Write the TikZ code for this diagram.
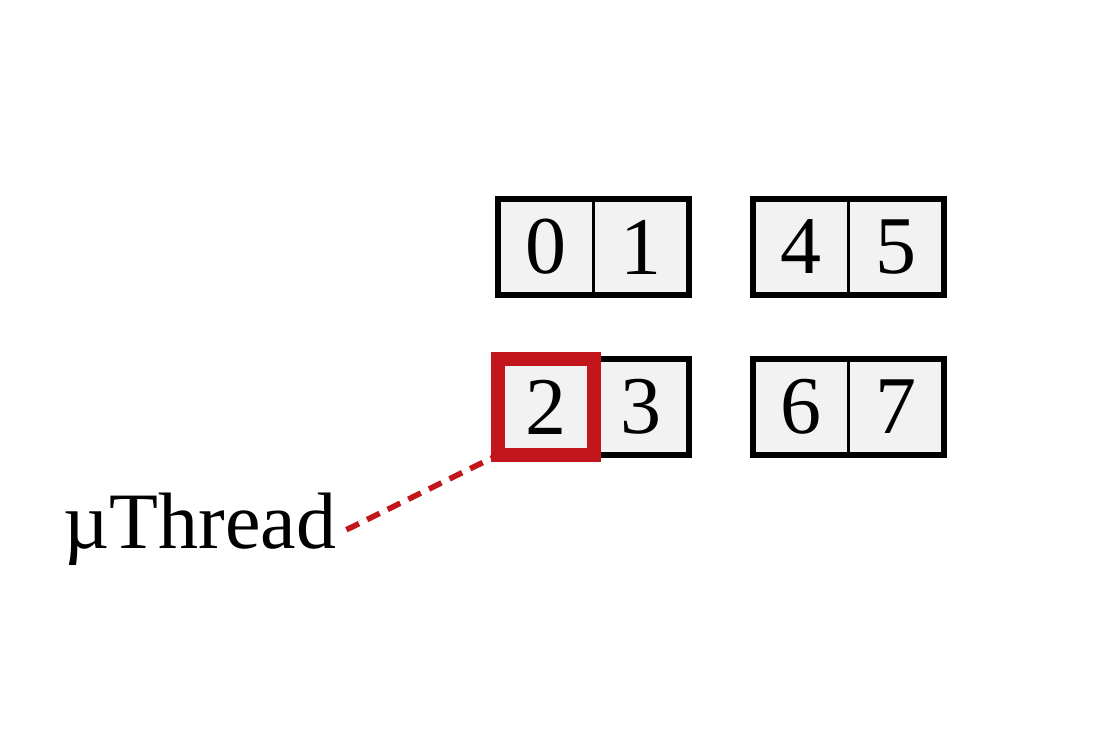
\documentclass[tikz,border=0pt]{standalone}
\usepackage{fontspec}
\setmainfont{Liberation Serif}
\definecolor{cellgray}{HTML}{F2F2F2}
\definecolor{threadred}{HTML}{C3161C}

\begin{document}
\begin{tikzpicture}[x=0.5pt, y=-0.5pt,
    cell/.style={draw=black, line width=1.2pt, fill=cellgray,
      minimum width=47.75pt, minimum height=48pt, inner sep=0pt, outer sep=0pt,
      font=\fontsize{41}{48}\selectfont},
    pair/.style={draw=black, line width=3pt},
    picked/.style={draw=threadred, line width=7pt},
    pointer/.style={threadred, line width=2.8pt, dash pattern=on 7pt off 4.5pt}]
  \useasboundingbox (0,0) rectangle (1097,747);

  % Top row of cells
  \node[cell] (c0) at (545.75, 247) {0};
  \node[cell] (c1) at (641.25, 247) {1};
  \node[cell] (c4) at (800.75, 247) {4};
  \node[cell] (c5) at (896.25, 247) {5};

  % Bottom row of cells
  \node[cell] (c2) at (545.75, 407) {2};
  \node[cell] (c3) at (641.25, 407) {3};
  \node[cell] (c6) at (800.75, 407) {6};
  \node[cell] (c7) at (896.25, 407) {7};

  % Pair borders
  \draw[pair] (c0.north west) rectangle (c1.south east);
  \draw[pair] (c4.north west) rectangle (c5.south east);
  \draw[pair] (c2.north west) rectangle (c3.south east);
  \draw[pair] (c6.north west) rectangle (c7.south east);

  % Label
  \node[anchor=base west, inner sep=0pt, font=\fontsize{40}{48}\selectfont]
    (mu) at (63, 549) {µThread};

  % Pointer to the picked cell
  \draw[pointer] ([xshift=5pt]mu.east) -- (c2.south west);
  \draw[picked] (c2.north west) rectangle (c2.south east);
\end{tikzpicture}
\end{document}
